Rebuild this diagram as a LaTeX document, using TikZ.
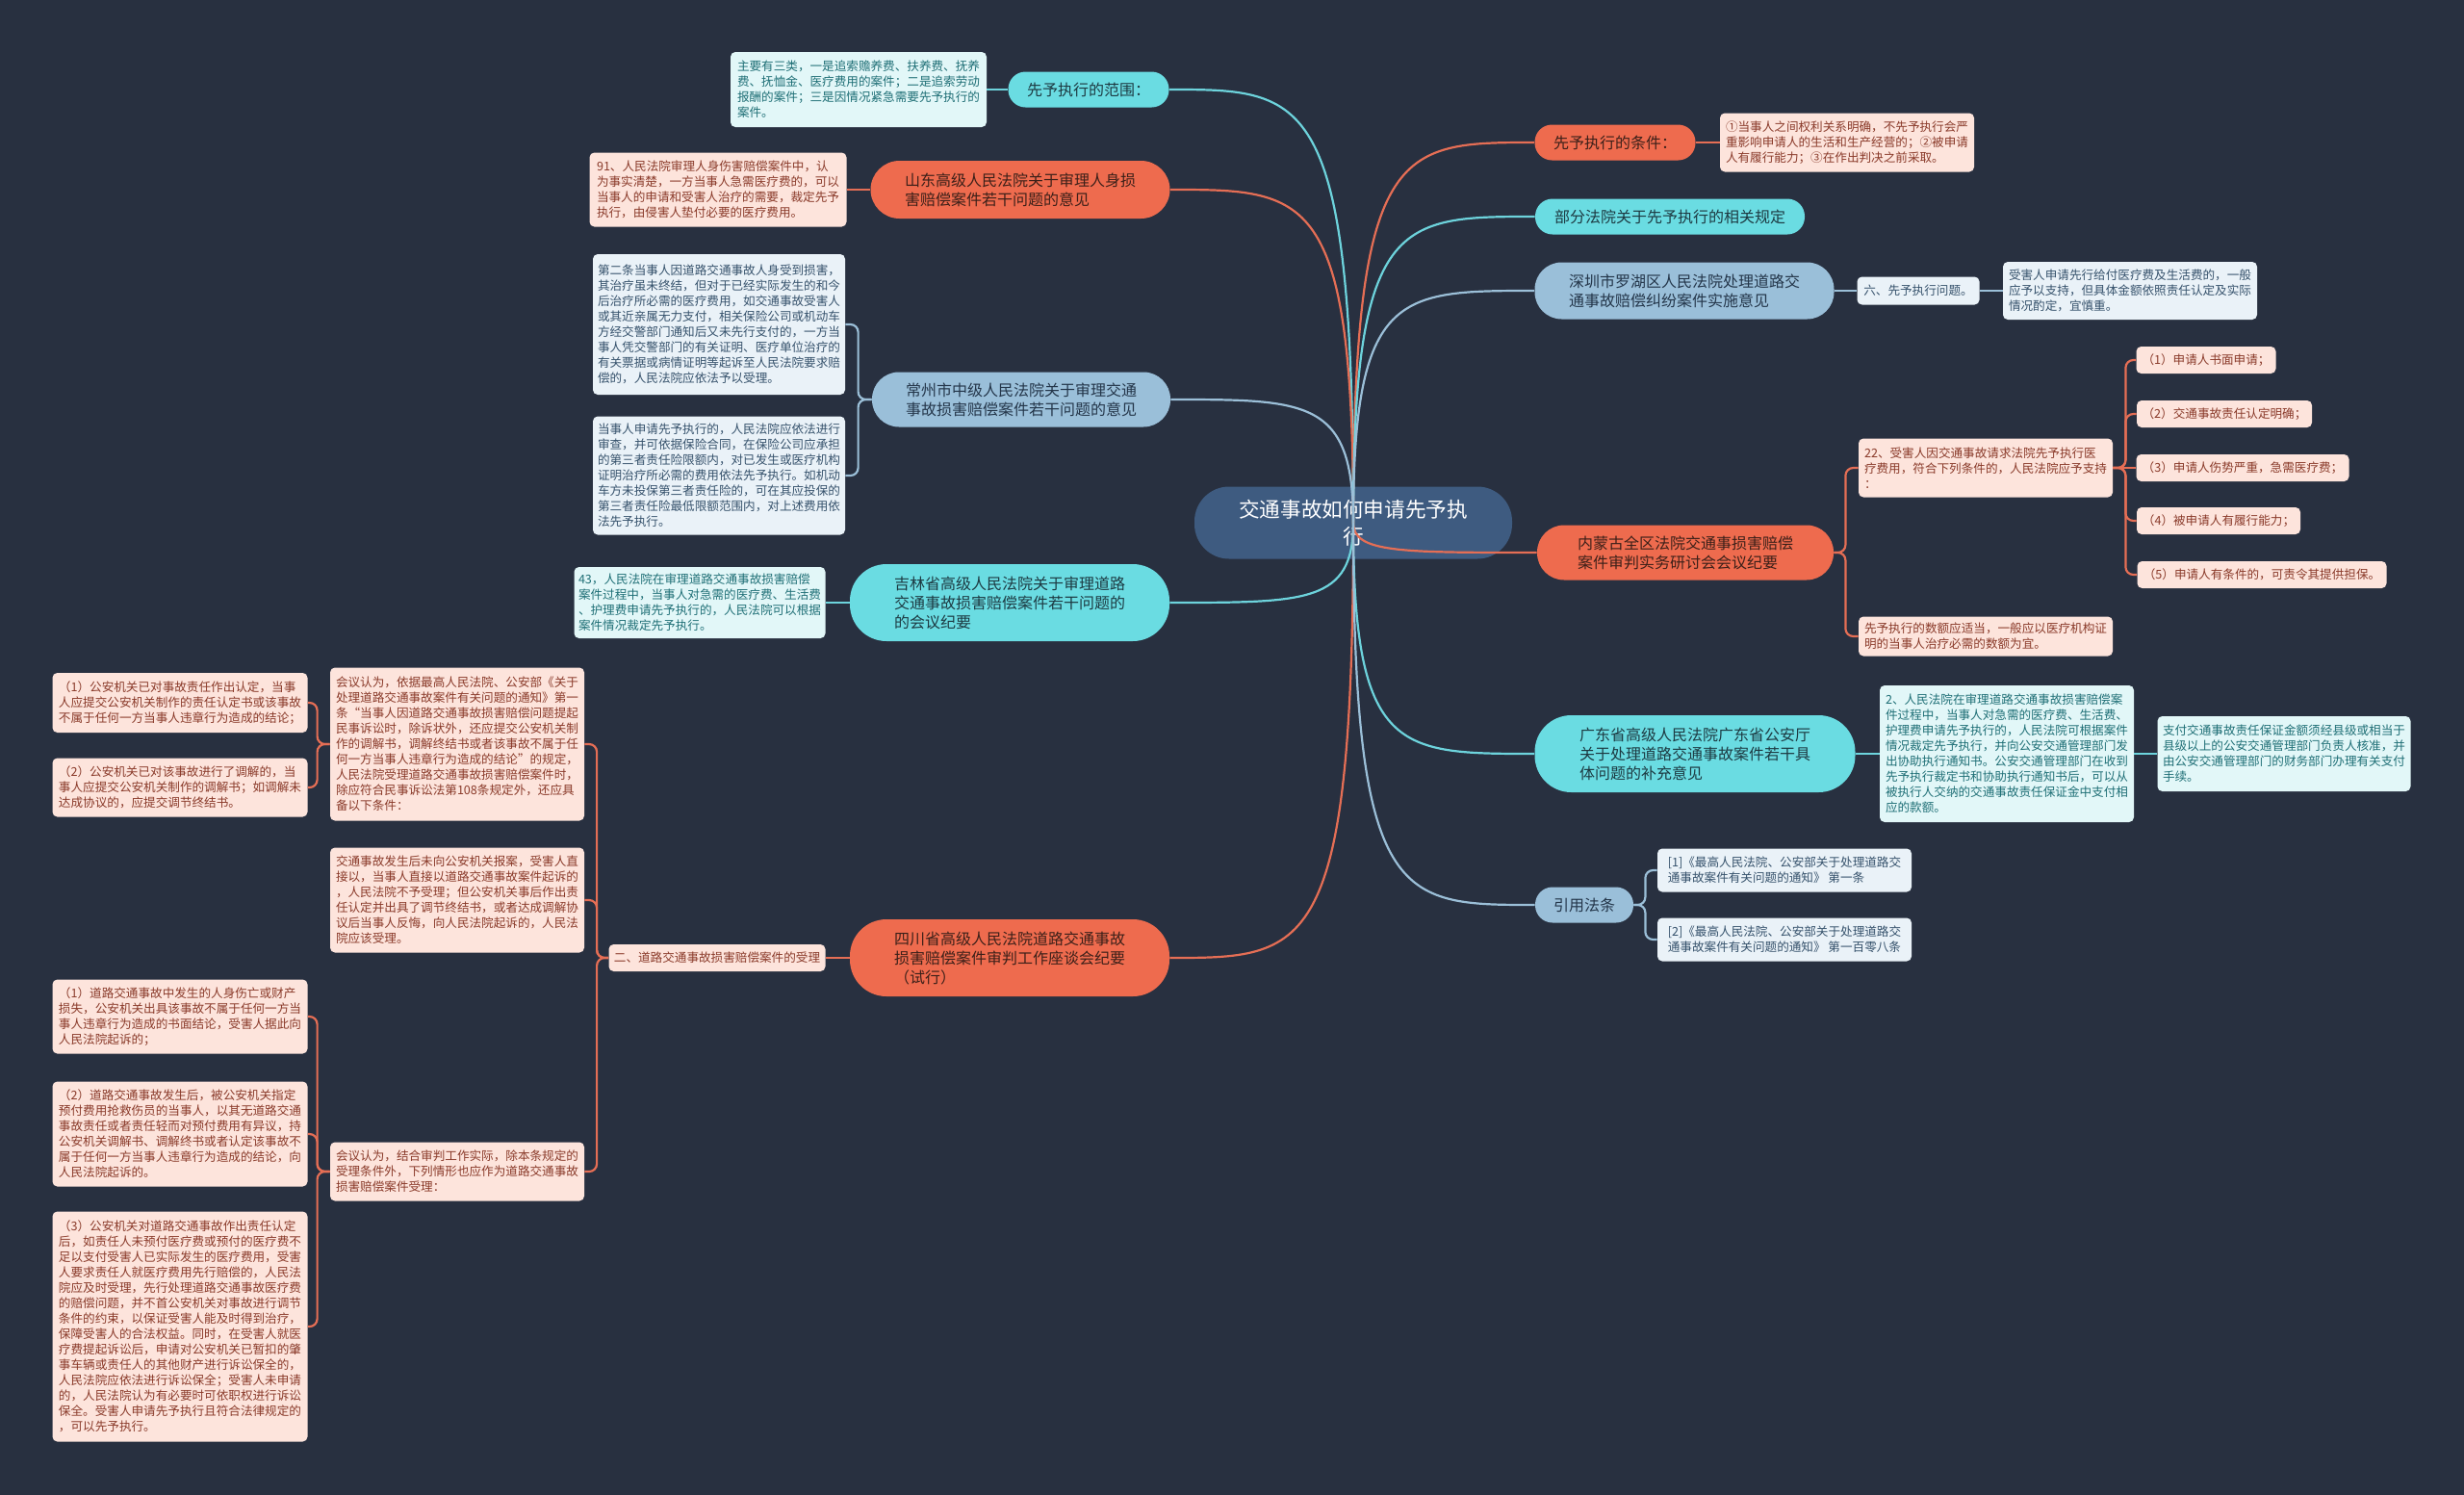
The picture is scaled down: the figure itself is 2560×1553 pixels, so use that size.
\documentclass[tikz,border=0pt]{standalone}
\usepackage{fontspec}
\setmainfont{Noto Sans CJK SC}
\usetikzlibrary{calc}
\definecolor{bgc}{HTML}{283040}
\definecolor{rootc}{HTML}{3E5B80}
\definecolor{mainO}{HTML}{EE6B4E}
\definecolor{mainC}{HTML}{6ADCE2}
\definecolor{mainB}{HTML}{9ABFD9}
\definecolor{txtLo}{HTML}{3C2019}
\definecolor{txtLc}{HTML}{1D3A42}
\definecolor{txtLb}{HTML}{24364A}
\definecolor{leafO}{HTML}{FDE4DC}
\definecolor{leafC}{HTML}{E2F7F8}
\definecolor{leafB}{HTML}{EAF2F8}
\definecolor{txtO}{HTML}{8A3A2A}
\definecolor{txtC}{HTML}{1F6F76}
\definecolor{txtB}{HTML}{36526C}
\definecolor{edgeO}{HTML}{E56E55}
\definecolor{edgeC}{HTML}{6DD3DC}
\definecolor{edgeB}{HTML}{9BBFD8}
\tikzset{
  wh/.style 2 args={minimum width=#1pt, minimum height=#2pt},
  leafbase/.style={rounded corners=2.5pt, inner sep=0pt, align=left, font=\fontsize{6.3}{8}\selectfont},
  lo/.style={leafbase, fill=leafO, text=txtO},
  lc/.style={leafbase, fill=leafC, text=txtC},
  lb/.style={leafbase, fill=leafB, text=txtB},
  mainbase/.style={inner sep=0pt, align=left, font=\fontsize{8}{10}\selectfont},
  Mo/.style={mainbase, fill=mainO, text=txtLo},
  Mc/.style={mainbase, fill=mainC, text=txtLc},
  Mb/.style={mainbase, fill=mainB, text=txtLb},
  eo/.style={draw=edgeO, line width=1.1pt},
  ec/.style={draw=edgeC, line width=1.1pt},
  eb/.style={draw=edgeB, line width=1.1pt},
  brk/.style={rounded corners=4pt},
}
\newcommand\rtedge[2]{\draw[#1] (root.center) .. controls (root.center |- #2) and ($(root.center |- #2)!0.25!(#2)$) .. (#2);}
\begin{document}
\begin{tikzpicture}[x=0.5pt, y=-0.5pt]
\fill[bgc] (0,0) rectangle (2560,1553);
\useasboundingbox (0,0) rectangle (2560,1553);

% root
\node[fill=rootc, text=white, rounded corners=18pt, inner sep=0pt, wh={165}{37.5}, align=center, font=\fontsize{10.8}{14}\selectfont] (root) at (1406,543) {交通事故如何申请先予执\\行};

% ---------- left side ----------
\node[Mc, wh={83.5}{18.5}, rounded corners=9pt] (fw) at (1131,93) {先予执行的范围：};
\node[lc, wh={133}{39}] (fwL) at (892,93) {主要有三类，一是追索赡养费、扶养费、抚养\\费、抚恤金、医疗费用的案件；二是追索劳动\\报酬的案件；三是因情况紧急需要先予执行的\\案件。};

\node[Mo, wh={155.5}{30}, rounded corners=15pt] (sd) at (1060,197) {山东高级人民法院关于审理人身损\\害赔偿案件若干问题的意见};
\node[lo, wh={133.5}{38.5}] (sdL) at (746,197) {91、人民法院审理人身伤害赔偿案件中，认\\为事实清楚，一方当事人急需医疗费的，可以\\当事人的申请和受害人治疗的需要，裁定先予\\执行，由侵害人垫付必要的医疗费用。};

\node[Mb, wh={155}{28.5}, rounded corners=14pt] (cz) at (1061,415) {常州市中级人民法院关于审理交通\\事故损害赔偿案件若干问题的意见};
\node[lb, wh={131}{73}] (czA) at (747,337) {第二条当事人因道路交通事故人身受到损害，\\其治疗虽未终结，但对于已经实际发生的和今\\后治疗所必需的医疗费用，如交通事故受害人\\或其近亲属无力支付，相关保险公司或机动车\\方经交警部门通知后又未先行支付的，一方当\\事人凭交警部门的有关证明、医疗单位治疗的\\有关票据或病情证明等起诉至人民法院要求赔\\偿的，人民法院应依法予以受理。};
\node[lb, wh={131}{61.5}] (czB) at (747,494) {当事人申请先予执行的，人民法院应依法进行\\审查，并可依据保险合同，在保险公司应承担\\的第三者责任险限额内，对已发生或医疗机构\\证明治疗所必需的费用依法先予执行。如机动\\车方未投保第三者责任险的，可在其应投保的\\第三者责任险最低限额范围内，对上述费用依\\法先予执行。};

\node[Mc, wh={166}{40}, rounded corners=19pt] (jl) at (1049,626) {吉林省高级人民法院关于审理道路\\交通事故损害赔偿案件若干问题的\\的会议纪要};
\node[lc, wh={130.5}{37}] (jlL) at (727,626) {43，人民法院在审理道路交通事故损害赔偿\\案件过程中，当事人对急需的医疗费、生活费\\、护理费申请先予执行的，人民法院可以根据\\案件情况裁定先予执行。};

\node[Mo, wh={166}{40}, rounded corners=19pt] (sc) at (1049,995) {四川省高级人民法院道路交通事故\\损害赔偿案件审判工作座谈会纪要\\（试行）};
\node[lo, wh={112.5}{14}] (sc2) at (745,995) {二、道路交通事故损害赔偿案件的受理};

\node[lo, wh={132}{79.5}] (ca) at (475,773) {会议认为，依据最高人民法院、公安部《关于\\处理道路交通事故案件有关问题的通知》第一\\条“当事人因道路交通事故损害赔偿问题提起\\民事诉讼时，除诉状外，还应提交公安机关制\\作的调解书，调解终结书或者该事故不属于任\\何一方当事人违章行为造成的结论”的规定，\\人民法院受理道路交通事故损害赔偿案件时，\\除应符合民事诉讼法第108条规定外，还应具\\备以下条件：};
\node[lo, wh={132}{54.5}] (cb) at (475,935) {交通事故发生后未向公安机关报案，受害人直\\接以，当事人直接以道路交通事故案件起诉的\\，人民法院不予受理；但公安机关事后作出责\\任认定并出具了调节终结书，或者达成调解协\\议后当事人反悔，向人民法院起诉的，人民法\\院应该受理。};
\node[lo, wh={132}{30.5}] (cc) at (475,1217) {会议认为，结合审判工作实际，除本条规定的\\受理条件外，下列情形也应作为道路交通事故\\损害赔偿案件受理：};

\node[lo, wh={132.5}{31}] (a1) at (187,730) {（1）公安机关已对事故责任作出认定，当事\\人应提交公安机关制作的责任认定书或该事故\\不属于任何一方当事人违章行为造成的结论；};
\node[lo, wh={132.5}{30.5}] (a2) at (187,818) {（2）公安机关已对该事故进行了调解的，当\\事人应提交公安机关制作的调解书；如调解未\\达成协议的，应提交调节终结书。};

\node[lo, wh={132.5}{38.5}] (c1) at (187,1056) {（1）道路交通事故中发生的人身伤亡或财产\\损失，公安机关出具该事故不属于任何一方当\\事人违章行为造成的书面结论，受害人据此向\\人民法院起诉的；};
\node[lo, wh={132.5}{54.5}] (c2) at (187,1178) {（2）道路交通事故发生后，被公安机关指定\\预付费用抢救伤员的当事人，以其无道路交通\\事故责任或者责任轻而对预付费用有异议，持\\公安机关调解书、调解终书或者认定该事故不\\属于任何一方当事人违章行为造成的结论，向\\人民法院起诉的。};
\node[lo, wh={132.5}{119.5}] (c3) at (187,1378) {（3）公安机关对道路交通事故作出责任认定\\后，如责任人未预付医疗费或预付的医疗费不\\足以支付受害人已实际发生的医疗费用，受害\\人要求责任人就医疗费用先行赔偿的，人民法\\院应及时受理，先行处理道路交通事故医疗费\\的赔偿问题，并不首公安机关对事故进行调节\\条件的约束，以保证受害人能及时得到治疗，\\保障受害人的合法权益。同时，在受害人就医\\疗费提起诉讼后，申请对公安机关已暂扣的肇\\事车辆或责任人的其他财产进行诉讼保全的，\\人民法院应依法进行诉讼保全；受害人未申请\\的，人民法院认为有必要时可依职权进行诉讼\\保全。受害人申请先予执行且符合法律规定的\\，可以先予执行。};

% ---------- right side ----------
\node[Mo, wh={83.5}{18.5}, rounded corners=9pt] (tj) at (1678,148) {先予执行的条件：};
\node[lo, wh={132}{30.5}] (tjL) at (1919,148) {①当事人之间权利关系明确，不先予执行会严\\重影响申请人的生活和生产经营的；②被申请\\人有履行能力；③在作出判决之前采取。};

\node[Mc, wh={140}{18.5}, rounded corners=9pt] (bf) at (1735,225) {部分法院关于先予执行的相关规定};

\node[Mb, wh={155.5}{29.5}, rounded corners=14pt] (sz) at (1750,302) {深圳市罗湖区人民法院处理道路交\\通事故赔偿纠纷案件实施意见};
\node[lb, wh={63.5}{14.5}] (sz6) at (1993,302) {六、先予执行问题。};
\node[lb, wh={132}{30}] (sz6L) at (2213,302) {受害人申请先行给付医疗费及生活费的，一般\\应予以支持，但具体金额依照责任认定及实际\\情况酌定，宜慎重。};

\node[Mo, wh={154}{28.5}, rounded corners=14pt] (nm) at (1751,574) {内蒙古全区法院交通事损害赔偿\\案件审判实务研讨会会议纪要};
\node[lo, wh={132}{30.5}] (nm22) at (2063,486) {22、受害人因交通事故请求法院先予执行医\\疗费用，符合下列条件的，人民法院应予支持\\：};
\node[lo, wh={132}{20.5}] (nmA) at (2063,661) {先予执行的数额应适当，一般应以医疗机构证\\明的当事人治疗必需的数额为宜。};
\node[lo, wh={72.5}{14}] (n1) at (2292,374) {（1）申请人书面申请；};
\node[lo, wh={91}{14}] (n2) at (2311,430) {（2）交通事故责任认定明确；};
\node[lo, wh={110.5}{14}] (n3) at (2330,486) {（3）申请人伤势严重，急需医疗费；};
\node[lo, wh={85}{14}] (n4) at (2305,541) {（4）被申请人有履行能力；};
\node[lo, wh={129.5}{14}] (n5) at (2350,597) {（5）申请人有条件的，可责令其提供担保。};

\node[Mc, wh={166.5}{40}, rounded corners=19pt] (gd) at (1761,783) {广东省高级人民法院广东省公安厅\\关于处理道路交通事故案件若干具\\体问题的补充意见};
\node[lc, wh={132}{71}] (gd2) at (2085,783) {2、人民法院在审理道路交通事故损害赔偿案\\件过程中，当事人对急需的医疗费、生活费、\\护理费申请先予执行的，人民法院可根据案件\\情况裁定先予执行，并向公安交通管理部门发\\出协助执行通知书。公安交通管理部门在收到\\先予执行裁定书和协助执行通知书后，可以从\\被执行人交纳的交通事故责任保证金中支付相\\应的款额。};
\node[lc, wh={131.5}{39}] (gdL) at (2373,783) {支付交通事故责任保证金额须经县级或相当于\\县级以上的公安交通管理部门负责人核准，并\\由公安交通管理部门的财务部门办理有关支付\\手续。};

\node[Mb, wh={51}{18.5}, rounded corners=9pt] (yy) at (1646,940) {引用法条};
\node[lb, wh={132}{22.5}] (y1) at (1854,904) {[1]《最高人民法院、公安部关于处理道路交\\通事故案件有关问题的通知》 第一条};
\node[lb, wh={132}{22.5}] (y2) at (1854,976) {[2]《最高人民法院、公安部关于处理道路交\\通事故案件有关问题的通知》 第一百零八条};

% ---------- connectors ----------
\rtedge{ec}{fw.east}
\rtedge{eo}{sd.east}
\rtedge{eb}{cz.east}
\rtedge{ec}{jl.east}
\rtedge{eo}{sc.east}
\rtedge{eo}{tj.west}
\rtedge{ec}{bf.west}
\rtedge{eb}{sz.west}
\rtedge{eo}{nm.west}
\rtedge{ec}{gd.west}
\rtedge{eb}{yy.west}

\draw[ec] (fwL.east) -- (fw.west);
\draw[eo] (sdL.east) -- (sd.west);
\draw[eb, brk] (cz.west) -- ++(-14,0) |- (czA.east);
\draw[eb, brk] (cz.west) -- ++(-14,0) |- (czB.east);
\draw[ec] (jlL.east) -- (jl.west);
\draw[eo] (sc2.east) -- (sc.west);
\draw[eo, brk] (sc2.west) -- ++(-12,0) |- (ca.east);
\draw[eo, brk] (sc2.west) -- ++(-12,0) |- (cb.east);
\draw[eo, brk] (sc2.west) -- ++(-12,0) |- (cc.east);
\draw[eo, brk] (ca.west) -- ++(-13,0) |- (a1.east);
\draw[eo, brk] (ca.west) -- ++(-13,0) |- (a2.east);
\draw[eo, brk] (cc.west) -- ++(-13,0) |- (c1.east);
\draw[eo, brk] (cc.west) -- ++(-13,0) |- (c2.east);
\draw[eo, brk] (cc.west) -- ++(-13,0) |- (c3.east);

\draw[eo] (tj.east) -- (tjL.west);
\draw[eb] (sz.east) -- (sz6.west);
\draw[eb] (sz6.east) -- (sz6L.west);
\draw[eo, brk] (nm.east) -- ++(12,0) |- (nm22.west);
\draw[eo, brk] (nm.east) -- ++(12,0) |- (nmA.west);
\draw[eo, brk] (nm22.east) -- ++(13,0) |- (n1.west);
\draw[eo, brk] (nm22.east) -- ++(13,0) |- (n2.west);
\draw[eo] (nm22.east) -- (n3.west);
\draw[eo, brk] (nm22.east) -- ++(13,0) |- (n4.west);
\draw[eo, brk] (nm22.east) -- ++(13,0) |- (n5.west);
\draw[ec] (gd.east) -- (gd2.west);
\draw[ec] (gd2.east) -- (gdL.west);
\draw[eb, brk] (yy.east) -- ++(12,0) |- (y1.west);
\draw[eb, brk] (yy.east) -- ++(12,0) |- (y2.west);
\end{tikzpicture}
\end{document}
